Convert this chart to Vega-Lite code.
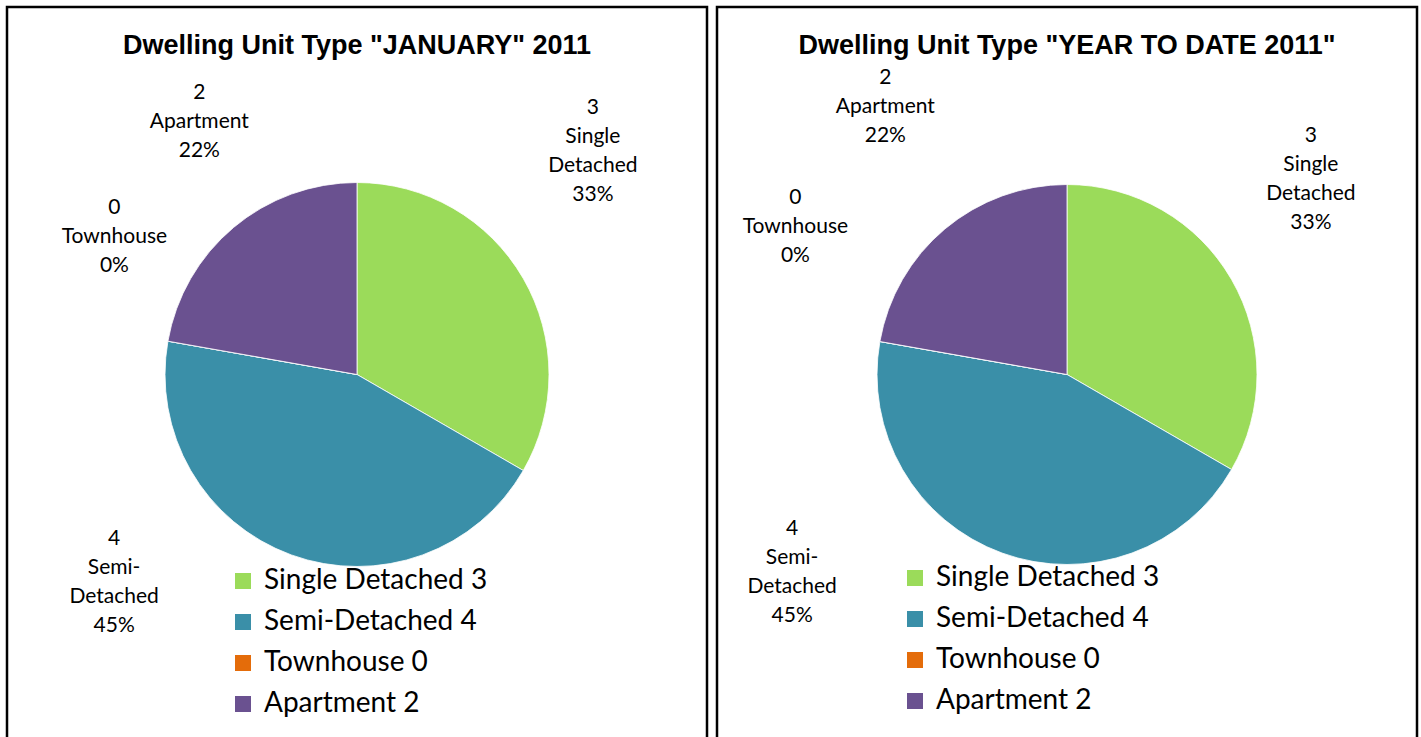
{
  "$schema": "https://vega.github.io/schema/vega-lite/v6.json",
  "padding": {"left": 5, "top": 5, "right": 0, "bottom": 0},
  "background": "white",
  "datasets": {
    "units": [
      {"type": "Single Detached 3", "count": 3, "order": 1, "label": "3\nSingle\nDetached\n33%"},
      {"type": "Semi-Detached 4", "count": 4, "order": 2, "label": "4\nSemi-\nDetached\n45%"},
      {"type": "Townhouse 0", "count": 0, "order": 3, "label": "0\nTownhouse\n0%"},
      {"type": "Apartment 2", "count": 2, "order": 4, "label": "2\nApartment\n22%"}
    ]
  },
  "spacing": 6,
  "hconcat": [
    {
      "width": 700,
      "height": 735,
      "data": {"name": "units"},
      "title": {"text": "Dwelling Unit Type \"JANUARY\" 2011", "offset": -53, "fontSize": 27, "font": "Liberation Sans", "fontWeight": "bold", "color": "#000000"},
      "encoding": {
        "theta": {"field": "count", "type": "quantitative", "stack": true},
        "order": {"field": "order", "type": "quantitative"}
      },
      "layer": [
        {
          "mark": {"type": "arc", "outerRadius": 192, "stroke": "#ffffff", "strokeWidth": 0.8},
          "encoding": {
            "color": {
              "field": "type", "type": "nominal",
              "scale": {"domain": ["Single Detached 3", "Semi-Detached 4", "Townhouse 0", "Apartment 2"], "range": ["#9BDB5A", "#3A8FA8", "#E46C0A", "#6A5190"]},
              "sort": null,
              "legend": {"orient": "none", "legendX": 222, "legendY": 560, "title": null, "symbolType": "square", "symbolSize": 256, "labelFontSize": 28, "labelFont": "Lato", "labelColor": "#000000", "rowPadding": 13, "labelOffset": 7, "symbolStrokeWidth": 0}
            }
          }
        },
        {
          "mark": {"type": "text", "clip": true, "radius": 292, "dx": -17, "dy": -121, "lineBreak": "\n", "fontSize": 21, "font": "Lato", "color": "#000000", "lineHeight": 29, "align": "center", "baseline": "middle"},
          "encoding": {"text": {"condition": {"test": "datum.order == 1", "field": "label"}, "value": ""}}
        },
        {
          "mark": {"type": "text", "clip": true, "radius": 292, "dx": -143, "dy": -110, "lineBreak": "\n", "fontSize": 21, "font": "Lato", "color": "#000000", "lineHeight": 29, "align": "center", "baseline": "middle"},
          "encoding": {"text": {"condition": {"test": "datum.order == 2", "field": "label"}, "value": ""}}
        },
        {
          "mark": {"type": "text", "clip": true, "radius": 292, "dx": 45, "dy": -116, "lineBreak": "\n", "fontSize": 21, "font": "Lato", "color": "#000000", "lineHeight": 29, "align": "center", "baseline": "middle"},
          "encoding": {"text": {"condition": {"test": "datum.order == 3", "field": "label"}, "value": ""}}
        },
        {
          "mark": {"type": "text", "clip": true, "radius": 292, "dx": 30, "dy": -58, "lineBreak": "\n", "fontSize": 21, "font": "Lato", "color": "#000000", "lineHeight": 29, "align": "center", "baseline": "middle"},
          "encoding": {"text": {"condition": {"test": "datum.order == 4", "field": "label"}, "value": ""}}
        }
      ]
    },
    {
      "width": 700,
      "height": 735,
      "data": {"name": "units"},
      "title": {"text": "Dwelling Unit Type \"YEAR TO DATE 2011\"", "offset": -53, "fontSize": 27, "font": "Liberation Sans", "fontWeight": "bold", "color": "#000000"},
      "encoding": {
        "theta": {"field": "count", "type": "quantitative", "stack": true},
        "order": {"field": "order", "type": "quantitative"}
      },
      "layer": [
        {
          "mark": {"type": "arc", "outerRadius": 190, "stroke": "#ffffff", "strokeWidth": 0.8},
          "encoding": {
            "color": {
              "field": "type", "type": "nominal",
              "scale": {"domain": ["Single Detached 3", "Semi-Detached 4", "Townhouse 0", "Apartment 2"], "range": ["#9BDB5A", "#3A8FA8", "#E46C0A", "#6A5190"]},
              "sort": null,
              "legend": {"orient": "none", "legendX": 184, "legendY": 557, "title": null, "symbolType": "square", "symbolSize": 256, "labelFontSize": 28, "labelFont": "Lato", "labelColor": "#000000", "rowPadding": 13, "labelOffset": 7, "symbolStrokeWidth": 0}
            }
          }
        },
        {
          "mark": {"type": "text", "clip": true, "radius": 292, "dx": -9, "dy": -93, "lineBreak": "\n", "fontSize": 21, "font": "Lato", "color": "#000000", "lineHeight": 29, "align": "center", "baseline": "middle"},
          "encoding": {"text": {"condition": {"test": "datum.order == 1", "field": "label"}, "value": ""}}
        },
        {
          "mark": {"type": "text", "clip": true, "radius": 292, "dx": -175, "dy": -120, "lineBreak": "\n", "fontSize": 21, "font": "Lato", "color": "#000000", "lineHeight": 29, "align": "center", "baseline": "middle"},
          "encoding": {"text": {"condition": {"test": "datum.order == 2", "field": "label"}, "value": ""}}
        },
        {
          "mark": {"type": "text", "clip": true, "radius": 292, "dx": 16, "dy": -126, "lineBreak": "\n", "fontSize": 21, "font": "Lato", "color": "#000000", "lineHeight": 29, "align": "center", "baseline": "middle"},
          "encoding": {"text": {"condition": {"test": "datum.order == 3", "field": "label"}, "value": ""}}
        },
        {
          "mark": {"type": "text", "clip": true, "radius": 292, "dx": 6, "dy": -73, "lineBreak": "\n", "fontSize": 21, "font": "Lato", "color": "#000000", "lineHeight": 29, "align": "center", "baseline": "middle"},
          "encoding": {"text": {"condition": {"test": "datum.order == 4", "field": "label"}, "value": ""}}
        }
      ]
    }
  ],
  "resolve": {"legend": {"color": "independent"}},
  "config": {
    "view": {"stroke": "#000000", "strokeWidth": 2.5},
    "style": {"view": {"stroke": "#000000", "strokeWidth": 2.5}},
    "legend": {"labelLimit": 400}
  }
}
